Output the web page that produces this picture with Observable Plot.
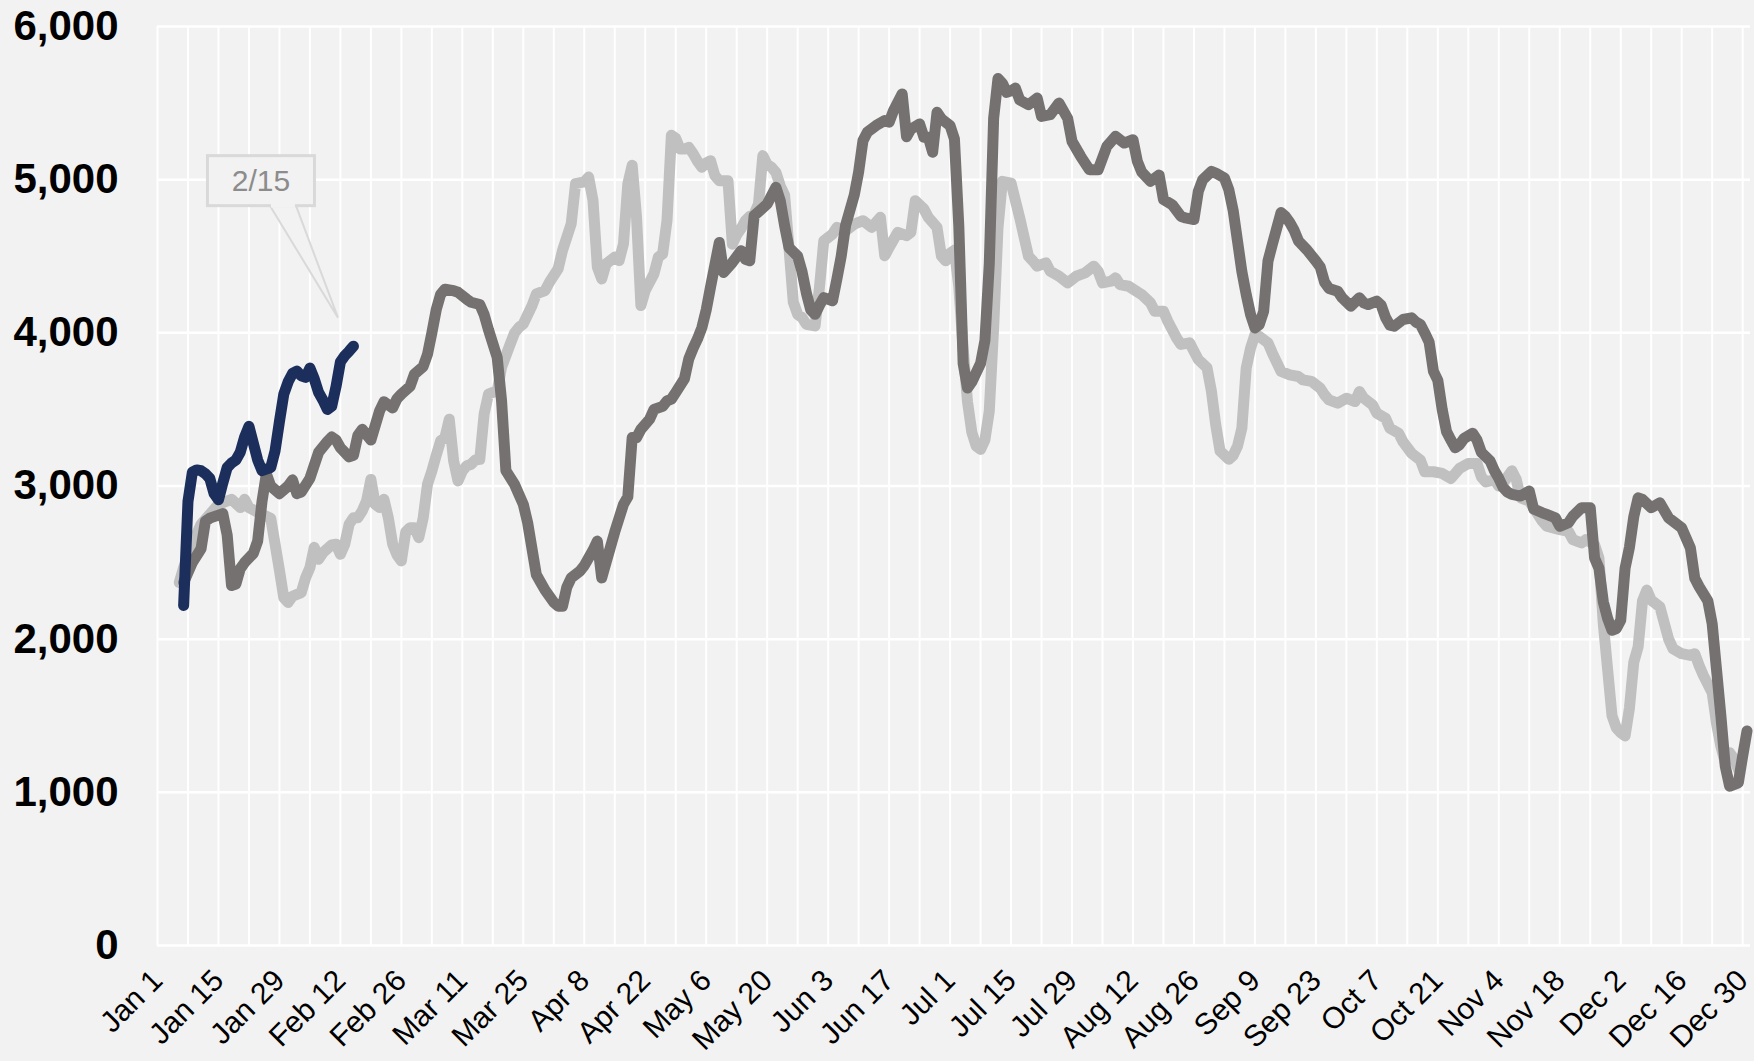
<!DOCTYPE html>
<html>
<head>
<meta charset="utf-8">
<script src="https://cdn.jsdelivr.net/npm/d3@7"></script>
<script src="https://cdn.jsdelivr.net/npm/@observablehq/plot@0.6"></script>
<style>
html, body { margin: 0; padding: 0; background: #f2f2f2; }
#chart svg { display: block; font-family: "Liberation Sans", Arial, sans-serif; }
</style>
</head>
<body>
<div id="chart"></div>
<script>
// ---------- data (day offset from Jan 1, value) ----------
const YEAR_START = Date.UTC(2024, 0, 1);
const yTicks = [0, 1000, 2000, 3000, 4000, 5000, 6000];
const annotationLabel = "2/15";
const colors = { current: "#1c2e5c", lastYear: "#767171", twoYearsAgo: "#c0c0c0" };

const currentYear = [
  [6,2220],[7,2900],[8,3090],[9,3105],[10,3100],[11,3080],[12,3050],[13,2950],[14,2910],[15,3020],
  [16,3120],[17,3150],[18,3170],[19,3220],[20,3320],[21,3390],[22,3280],[23,3170],[24,3100],[25,3110],
  [26,3120],[27,3230],[28,3420],[29,3600],[30,3680],[31,3735],[32,3750],[33,3720],[34,3710],[35,3770],
  [36,3700],[37,3610],[38,3560],[39,3500],[40,3520],[41,3650],[42,3810],[43,3850],[44,3880],[45,3913]
];

const lastYear = [
  [6,2370],[8,2500],[10,2590],[11,2770],[12,2790],[14,2810],[15,2820],[16,2680],[17,2350],[18,2360],
  [19,2460],[20,2500],[22,2560],[23,2640],[24,2900],[25,3080],[26,3000],[28,2950],[30,3000],[31,3040],
  [32,2950],[33,2960],[35,3050],[37,3220],[39,3290],[40,3320],[41,3300],[42,3250],[44,3190],[45,3200],
  [46,3330],[47,3370],[49,3300],[51,3490],[52,3550],[54,3510],[55,3570],[56,3600],[58,3650],[59,3730],
  [61,3780],[62,3860],[63,4000],[64,4150],[65,4250],[66,4285],[68,4275],[69,4265],[71,4220],[72,4200],
  [74,4185],[75,4120],[76,4020],[78,3840],[79,3560],[80,3100],[82,3010],[83,2945],[84,2880],[85,2760],
  [87,2420],[88,2370],[89,2320],[91,2240],[92,2215],[93,2215],[94,2340],[95,2400],[97,2444],[98,2480],
  [100,2580],[101,2640],[102,2400],[103,2500],[104,2600],[105,2700],[107,2880],[108,2930],[109,3316],[110,3316],
  [111,3370],[113,3436],[114,3500],[116,3520],[117,3556],[118,3567],[119,3610],[121,3700],[122,3830],[123,3900],
  [124,3960],[125,4034],[126,4150],[127,4300],[129,4590],[130,4394],[132,4459],[134,4536],[135,4480],[136,4470],
  [137,4765],[138,4790],[140,4841],[142,4950],[143,4863],[144,4700],[145,4557],[147,4500],[148,4400],[149,4260],
  [150,4150],[151,4121],[152,4180],[153,4230],[155,4209],[156,4350],[157,4500],[158,4700],[160,4900],[161,5050],
  [162,5255],[163,5310],[165,5353],[167,5386],[168,5375],[169,5450],[171,5560],[172,5280],[173,5330],[175,5364],
  [176,5277],[177,5277],[178,5179],[179,5440],[180,5397],[182,5353],[183,5266],[184,4700],[185,3800],[186,3640],
  [187,3680],[188,3740],[189,3800],[190,3950],[191,4450],[192,5400],[193,5660],[194,5630],[195,5570],[196,5580],
  [197,5598],[198,5520],[200,5489],[202,5533],[203,5413],[205,5424],[207,5500],[209,5400],[210,5250],[212,5152],
  [214,5065],[216,5065],[218,5217],[220,5283],[222,5239],[224,5261],[225,5120],[226,5050],[228,4989],[230,5030],
  [231,4870],[233,4837],[235,4761],[236,4750],[238,4740],[239,4924],[240,5000],[242,5054],[243,5043],[245,5011],
  [246,4935],[247,4800],[248,4600],[249,4400],[250,4250],[251,4120],[252,4032],[253,4054],[254,4140],[255,4469],
  [256,4578],[258,4786],[259,4760],[260,4720],[261,4670],[262,4600],[264,4540],[266,4469],[267,4430],[268,4330],
  [269,4290],[271,4272],[272,4230],[274,4174],[276,4229],[277,4196],[278,4185],[280,4207],[281,4180],[282,4100],
  [283,4050],[284,4043],[286,4087],[288,4098],[289,4070],[290,4054],[291,3999],[292,3940],[293,3748],[294,3690],
  [295,3500],[296,3355],[297,3300],[298,3250],[299,3270],[300,3310],[302,3344],[303,3300],[304,3220],[306,3164],
  [307,3100],[308,3050],[309,2990],[310,2960],[311,2945],[313,2934],[315,2967],[316,2850],[318,2825],[319,2814],
  [321,2792],[322,2737],[324,2760],[325,2803],[327,2858],[329,2858],[330,2529],[331,2463],[332,2244],[333,2135],
  [334,2058],[335,2069],[336,2124],[337,2463],[338,2600],[339,2800],[340,2923],[341,2912],[343,2858],[345,2890],
  [346,2840],[347,2792],[350,2726],[352,2595],[353,2398],[354,2343],[356,2250],[357,2100],[358,1800],[359,1500],
  [360,1171],[361,1040],[362,1050],[363,1061],[364,1237],[365,1401]
];

const twoYearsAgo = [
  [5,2370],[6,2467],[8,2620],[10,2750],[12,2815],[14,2880],[17,2913],[19,2859],[20,2913],[21,2859],
  [24,2815],[26,2790],[27,2620],[28,2450],[29,2270],[30,2240],[31,2280],[33,2304],[34,2400],[35,2467],
  [36,2600],[37,2522],[38,2565],[40,2615],[41,2620],[42,2554],[43,2620],[44,2750],[45,2793],[46,2793],
  [47,2837],[48,2902],[49,3043],[50,2880],[51,2859],[52,2913],[53,2793],[54,2620],[55,2550],[56,2511],
  [57,2700],[58,2728],[59,2728],[60,2663],[61,2790],[62,3011],[63,3098],[64,3200],[65,3294],[66,3316],
  [67,3436],[68,3164],[69,3033],[70,3098],[71,3131],[72,3142],[73,3170],[74,3174],[75,3469],[76,3600],
  [77,3611],[78,3620],[79,3774],[81,3927],[82,4000],[83,4036],[84,4058],[86,4178],[87,4254],[89,4276],
  [90,4330],[92,4418],[93,4538],[95,4712],[96,4974],[98,4985],[99,5017],[100,4865],[101,4429],[102,4352],
  [103,4450],[105,4494],[106,4472],[107,4581],[108,4974],[109,5094],[110,4756],[111,4178],[112,4276],[114,4385],
  [115,4494],[116,4516],[117,4734],[118,5290],[119,5270],[120,5200],[121,5200],[122,5211],[123,5170],[124,5120],
  [125,5081],[126,5110],[127,5124],[128,5026],[129,4993],[131,4993],[132,4579],[133,4640],[134,4680],[135,4732],
  [136,4760],[137,4775],[138,4841],[139,5157],[140,5100],[141,5081],[142,5048],[143,4960],[144,4900],[145,4557],
  [146,4200],[147,4120],[148,4100],[149,4056],[151,4045],[152,4296],[153,4601],[155,4645],[156,4688],[158,4666],
  [160,4710],[162,4732],[164,4688],[166,4754],[167,4503],[168,4557],[170,4656],[172,4634],[173,4656],[174,4863],
  [176,4808],[177,4754],[179,4688],[180,4503],[181,4470],[182,4520],[183,4540],[184,4300],[185,3900],[186,3550],
  [187,3350],[188,3260],[189,3239],[190,3300],[191,3489],[192,4033],[193,4685],[194,4989],[196,4978],[198,4750],
  [200,4500],[201,4470],[202,4435],[204,4457],[205,4402],[207,4370],[209,4326],[211,4370],[213,4391],[215,4435],
  [216,4402],[217,4326],[219,4337],[220,4359],[221,4315],[223,4304],[226,4250],[228,4196],[229,4141],[231,4141],
  [232,4076],[234,3967],[235,3924],[237,3935],[238,3880],[239,3826],[241,3772],[242,3620],[243,3400],[244,3228],
  [246,3174],[247,3200],[248,3260],[249,3377],[250,3770],[251,3900],[252,3988],[253,3977],[255,3934],[256,3868],
  [258,3748],[260,3726],[262,3715],[263,3693],[265,3683],[267,3639],[268,3595],[269,3562],[271,3541],[273,3573],
  [275,3551],[276,3617],[277,3573],[279,3530],[280,3475],[282,3442],[283,3377],[285,3344],[286,3289],[288,3213],
  [290,3169],[291,3093],[293,3093],[295,3082],[297,3049],[299,3115],[301,3147],[303,3147],[304,3060],[305,3027],
  [307,3040],[308,3000],[309,3020],[311,3099],[312,3044],[313,2923],[315,2901],[318,2770],[319,2737],[322,2715],
  [324,2704],[325,2650],[327,2628],[328,2650],[330,2617],[331,2529],[332,2100],[333,1800],[334,1500],[335,1420],
  [336,1390],[337,1368],[338,1550],[339,1850],[340,1950],[341,2250],[342,2321],[343,2255],[345,2211],[347,2000],
  [348,1938],[350,1905],[352,1894],[353,1905],[354,1828],[355,1762],[357,1650],[358,1450],[359,1300],[360,1193],
  [361,1259],[362,1220],[363,1150]
];

// ---------- helpers ----------
const toDate = (day) => new Date(YEAR_START + day * 864e5);
const series = (rows) => rows.map(([d, v]) => ({date: toDate(d), value: v}));

const xStart = toDate(0);
const xEnd = toDate(365.8);
const weekLines = d3.utcMonday.range(xStart, toDate(366));
const labelTicks = weekLines.filter((d, i) => i % 2 === 0);

const lineStyle = {x: "date", y: "value", strokeWidth: 11, strokeLinejoin: "round", strokeLinecap: "round"};

const chart = Plot.plot({
  width: 1754,
  height: 1061,
  marginLeft: 157,
  marginRight: 4,
  marginTop: 26,
  marginBottom: 116,
  style: {background: "#f2f2f2", fontFamily: "'Liberation Sans', Arial, sans-serif", color: "#000"},
  x: {type: "utc", domain: [xStart, xEnd], label: null},
  y: {domain: [0, 6000], label: null},
  marks: [
    Plot.gridX(weekLines, {stroke: "#ffffff", strokeOpacity: 1, strokeWidth: 2}),
    Plot.gridY(yTicks, {stroke: "#ffffff", strokeOpacity: 1, strokeWidth: 2.5}),
    Plot.axisY({ticks: yTicks, tickFormat: d3.format(","), tickSize: 0, tickPadding: 39,
      fontSize: 42, fontWeight: "bold", fill: "#000", label: null}),
    Plot.axisX({ticks: labelTicks, tickFormat: d3.utcFormat("%b %-d"), tickRotate: -45,
      tickSize: 0, tickPadding: 30, fontSize: 30, fill: "#000", label: null}),
    Plot.line(series(twoYearsAgo), {...lineStyle, stroke: colors.twoYearsAgo}),
    Plot.line(series(lastYear), {...lineStyle, stroke: colors.lastYear}),
    Plot.line(series(currentYear), {...lineStyle, stroke: colors.current})
  ]
});

document.getElementById("chart").appendChild(chart);

// ---------- callout anchored at the latest current-year point ----------
const last = currentYear[currentYear.length - 1];
const ax = chart.scale("x").apply(toDate(last[0]));
const ay = chart.scale("y").apply(last[1]);
const svg = d3.select(chart);
const g = svg.append("g").attr("transform", `translate(${ax},${ay})`);
const tip = [-15, -28];
const boxW = 107, boxH = 50, boxCx = -92, boxCy = -165;
g.append("path")
  .attr("d", `M${-83},${boxCy + boxH / 2} L${tip[0]},${tip[1]} L${-57},${boxCy + boxH / 2}`)
  .attr("fill", "#f2f2f2").attr("stroke", "#d9d9d9").attr("stroke-width", 2);
g.append("rect")
  .attr("x", boxCx - boxW / 2).attr("y", boxCy - boxH / 2)
  .attr("width", boxW).attr("height", boxH)
  .attr("fill", "#f2f2f2").attr("stroke", "#d9d9d9").attr("stroke-width", 3);
g.append("rect")
  .attr("x", -82).attr("y", boxCy + boxH / 2 - 2).attr("width", 24).attr("height", 4)
  .attr("fill", "#f2f2f2");
g.append("text")
  .attr("x", boxCx).attr("y", boxCy)
  .attr("text-anchor", "middle").attr("dominant-baseline", "central")
  .attr("font-size", 30).attr("fill", "#8c8c8c")
  .attr("font-family", "'Liberation Sans', Arial, sans-serif")
  .text(annotationLabel);
</script>
</body>
</html>
